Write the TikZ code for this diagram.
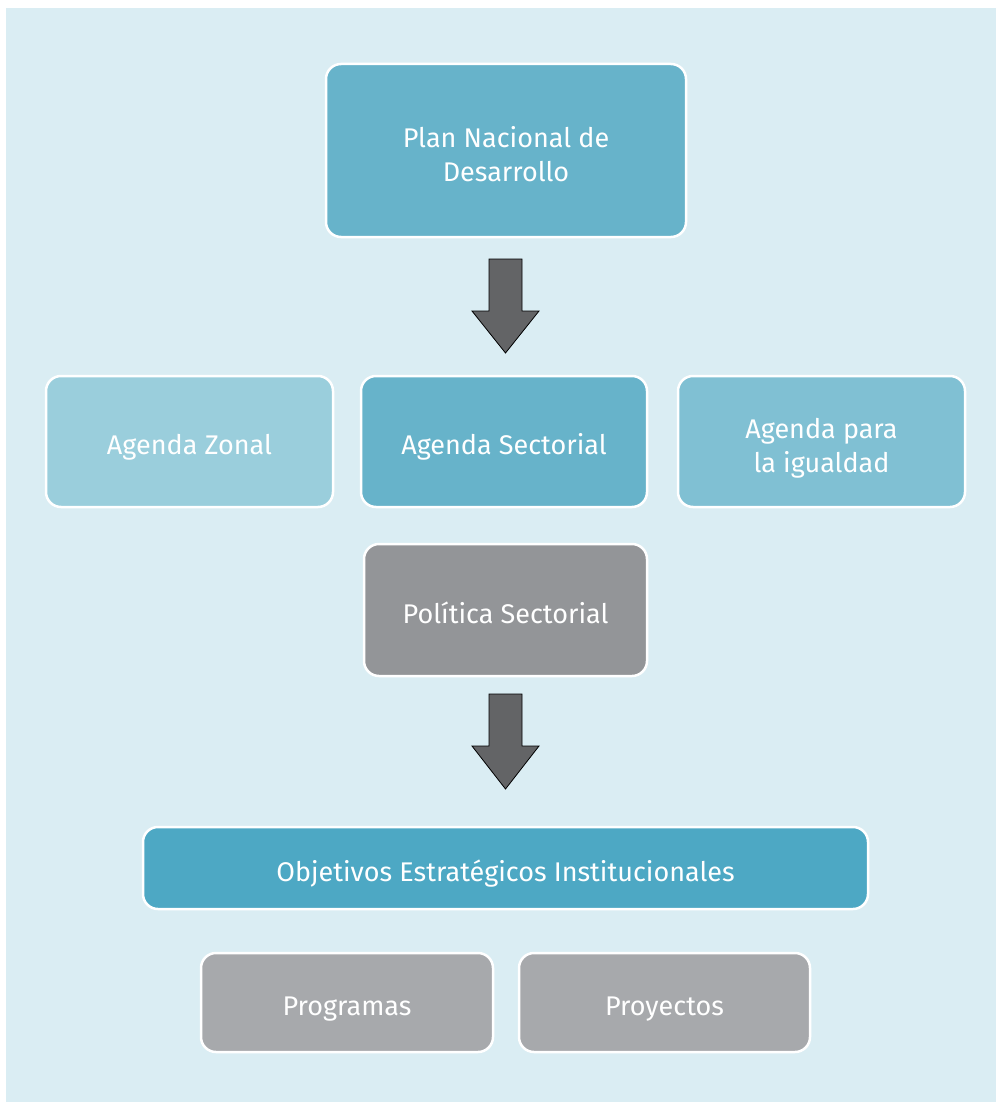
\documentclass[tikz,border=0pt]{standalone}
\usepackage{fontspec}
\setmainfont{Fira Sans}
\definecolor{bgblue}{HTML}{DAEDF3}
\definecolor{midblue}{HTML}{67B3CA}
\definecolor{paleblue}{HTML}{9ACEDC}
\definecolor{lightblue}{HTML}{80C0D3}
\definecolor{deepblue}{HTML}{4DA8C4}
\definecolor{darkgray}{HTML}{939598}
\definecolor{lightgray}{HTML}{A7A9AC}
\definecolor{arrowgray}{HTML}{636466}
\begin{document}
\begin{tikzpicture}[x=1pt,y=-1pt,
  box/.style={draw=white, line width=2.5pt, rounded corners=15pt, text=white,
    align=center, inner sep=0pt, font=\fontsize{27}{34}\selectfont},
  oneline/.style={text height=26pt, text depth=0pt},
  twoline/.style={text height=62pt, text depth=0pt},
  blockarrow/.style={fill=arrowgray, draw=black, line width=0.8pt, line join=miter}]
\useasboundingbox (0,0) rectangle (996,1102);
\fill[bgblue] (6,8) rectangle (996,1102);
\node[box, twoline, fill=midblue, minimum width=360pt, minimum height=173pt] (pnd) at (506,150.5) {Plan Nacional de\\Desarrollo};
\node[box, oneline, fill=paleblue, minimum width=287pt, minimum height=131pt] (zonal) at (189.5,441.5) {Agenda Zonal};
\node[box, oneline, fill=midblue, minimum width=286pt, minimum height=131pt] (sect) at (504,441.5) {Agenda Sectorial};
\node[box, twoline, fill=lightblue, minimum width=287pt, minimum height=131pt] (igual) at (821.5,441.5) {Agenda para\\la igualdad};
\node[box, oneline, fill=darkgray, minimum width=283pt, minimum height=132pt] (pol) at (505.5,610) {Política Sectorial};
\node[box, oneline, fill=deepblue, minimum width=725pt, minimum height=82pt] (obj) at (505.5,868) {Objetivos Estratégicos Institucionales};
\node[box, oneline, fill=lightgray, minimum width=292pt, minimum height=99pt] (prog) at (347,1002.5) {Programas};
\node[box, oneline, fill=lightgray, minimum width=291pt, minimum height=99pt] (proy) at (664.5,1002.5) {Proyectos};
% block arrows
\coordinate (a1) at (505.5,259);
\draw[blockarrow] (a1) ++(-16.5,0) -- ++(33,0) -- ++(0,52) -- ++(17,0) -- ++(-33.5,42) -- ++(-33.5,-42) -- ++(17,0) -- cycle;
\coordinate (a2) at (505.5,694);
\draw[blockarrow] (a2) ++(-16.5,0) -- ++(33,0) -- ++(0,52) -- ++(17,0) -- ++(-33.5,43) -- ++(-33.5,-43) -- ++(17,0) -- cycle;
\end{tikzpicture}
\end{document}
